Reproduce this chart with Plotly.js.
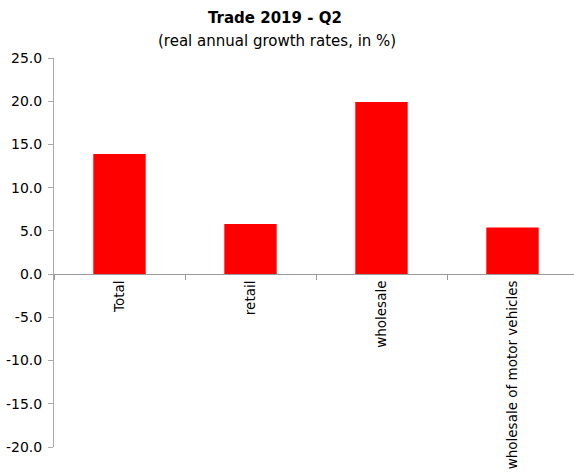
<!DOCTYPE html>
<html>
<head>
<meta charset="utf-8">
<script src="https://cdn.plot.ly/plotly-3.0.1.min.js"></script>
<style>
html, body { margin: 0; padding: 0; overflow: hidden; background: #fff; }
#chart { width: 579px; height: 473px; }
</style>
</head>
<body>
<div id="chart"></div>
<script>
const categories = ["Total", "retail", "wholesale", "wholesale of motor vehicles"];
const growthRates = [13.9, 5.8, 19.9, 5.4];
const yTickValues = [-20, -15, -10, -5, 0, 5, 10, 15, 20, 25];
const yTickLabels = ["-20.0", "-15.0", "-10.0", "-5.0", "0.0", "5.0", "10.0", "15.0", "20.0", "25.0"];
const chartTitle = "Trade 2019 - Q2";
const chartSubtitle = "(real annual growth rates, in %)";

const font = "DejaVu Sans, Verdana, sans-serif";

const trace = {
  type: "bar",
  x: categories,
  y: growthRates,
  marker: { color: "#ff0000", line: { width: 0 } },
  hoverinfo: "none"
};

const layout = {
  width: 579,
  height: 473,
  margin: { l: 54, r: 1, t: 58, b: 26, pad: 0 },
  paper_bgcolor: "#ffffff",
  plot_bgcolor: "#ffffff",
  showlegend: false,
  bargap: 0.6,
  font: { family: font, color: "#000000" },
  annotations: [
    {
      text: "<b>" + chartTitle + "</b>",
      xref: "paper", yref: "paper",
      x: (275 - 54) / 524, y: 1 + (58 - 18) / 389,
      xanchor: "center", yanchor: "middle",
      showarrow: false,
      font: { family: font, size: 15, color: "#000000" }
    },
    {
      text: chartSubtitle,
      xref: "paper", yref: "paper",
      x: (277 - 54) / 524, y: 1 + (58 - 41) / 389,
      xanchor: "center", yanchor: "middle",
      showarrow: false,
      font: { family: font, size: 15, color: "#000000" }
    }
  ],
  xaxis: {
    type: "category",
    anchor: "free",
    position: 20 / 45,
    showline: true,
    linecolor: "#999999",
    linewidth: 1,
    ticks: "outside",
    tickson: "boundaries",
    ticklen: 5,
    tickcolor: "#999999",
    tickangle: -90,
    tickfont: { family: font, size: 13.5, color: "#000000" },
    showgrid: false,
    zeroline: false,
    automargin: false,
    fixedrange: true
  },
  yaxis: {
    range: [-20, 25],
    tickvals: yTickValues,
    ticktext: yTickLabels,
    showline: true,
    linecolor: "#aaaaaa",
    linewidth: 1,
    ticks: "outside",
    ticklen: 5,
    tickcolor: "#aaaaaa",
    ticklabelstandoff: 3,
    tickfont: { family: font, size: 14, color: "#000000" },
    showgrid: false,
    zeroline: false,
    automargin: false,
    fixedrange: true
  }
};

Plotly.newPlot("chart", [trace], layout, { staticPlot: true, displayModeBar: false });
</script>
</body>
</html>
